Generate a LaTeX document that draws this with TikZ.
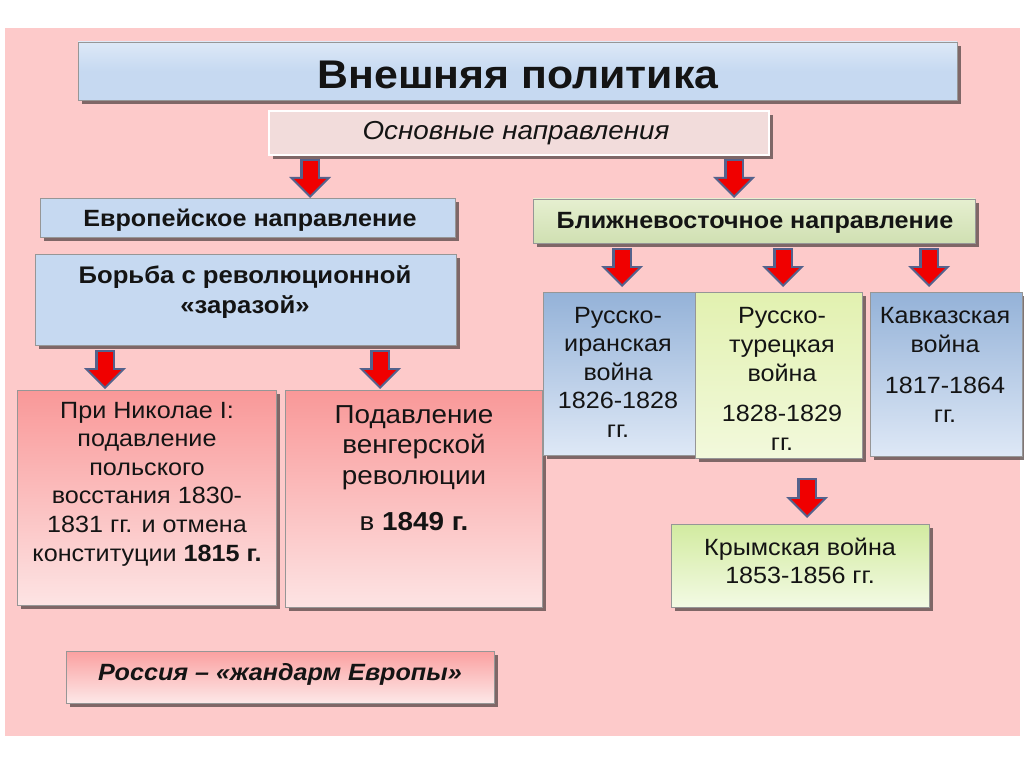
\documentclass[tikz,border=0pt]{standalone}
\usepackage{fontspec}
\setmainfont{Liberation Sans}[FakeStretch=1.07]
\usetikzlibrary{shadows,arrows.meta,calc}

\definecolor{bgpink}{RGB}{253,202,202}
\definecolor{tblue}{RGB}{198,217,241}
\definecolor{subpink}{RGB}{242,220,219}
\definecolor{boxline}{RGB}{150,150,150}
\definecolor{shadowc}{RGB}{85,70,70}
\definecolor{arrblue}{RGB}{84,98,140}
\definecolor{arrred}{RGB}{240,0,0}
\definecolor{txt}{RGB}{20,20,20}

\newcommand\fs[2]{\fontsize{#1}{#2}\selectfont}
\newcommand\barrow[5]{%
  \draw[arrout] ($(#2.south -| #1)+(0,#3)$) -- ($(#4.north -| #1)+(0,-#5)$);
  \draw[arrin] ($(#2.south -| #1)+(0,#3+2)$) -- ($(#4.north -| #1)+(0,-#5-3)$);
}

\begin{document}
\begin{tikzpicture}[x=1pt,y=-1pt,
  box/.style={draw=boxline, line width=0.7pt, inner sep=0pt, outer sep=0pt,
    anchor=north west,
    drop shadow={shadow xshift=4pt, shadow yshift=-4pt, fill=shadowc, opacity=0.75}},
  lbl/.style={text=txt, align=center, inner sep=0pt},
  arrout/.style={draw=arrblue, line width=20pt,
    -{Triangle[length=21pt,width=42pt,line width=0pt]}},
  arrin/.style={draw=arrred, line width=15pt,
    -{Triangle[length=16pt,width=32pt,line width=0pt]}},
]
\useasboundingbox (0,0) rectangle (1024,767);
\fill[white] (0,0) rectangle (1024,767);
\fill[bgpink] (5,28) rectangle (1020,736);

% title
\node[box, fill=tblue, top color=white!40!tblue, bottom color=tblue, middle color=tblue,
  minimum width=879, minimum height=58] (title) at (78,42) {};
\node[lbl, font=\fs{40}{46}\bfseries] (titlet) at (518,75) {Внешняя политика};

% subtitle
\node[box, fill=subpink, draw=white, line width=2pt, minimum width=500, minimum height=44] (sub) at (269,111) {};
\node[lbl, font=\fs{26}{30}\itshape] (subt) at (516,133) {Основные направления};

% European branch
\node[box, fill=tblue, minimum width=415, minimum height=39] (eur) at (40,198) {};
\node[lbl, font=\fs{23.5}{28}\bfseries] (eurt) at (250,220) {Европейское направление};

\node[box, fill=tblue, minimum width=421, minimum height=91] (bor) at (35,254) {};
\node[lbl, font=\fs{24}{30}\bfseries] (bort) at (245,292) {Борьба с революционной\\«заразой»};

\node[box, top color={rgb,255:red,249;green,152;blue,152}, bottom color={rgb,255:red,253;green,228;blue,228},
  minimum width=259, minimum height=215] (nik) at (17,390) {};
\node[lbl, font=\fs{23.5}{28.6}] (nikt) at (147,484) {При Николае I:\\подавление\\польского\\восстания 1830-\\1831 гг. и отмена\\конституции \textbf{1815 г.}};

\node[box, top color={rgb,255:red,249;green,152;blue,152}, bottom color={rgb,255:red,253;green,228;blue,228},
  minimum width=257, minimum height=217] (ven) at (285,390) {};
\node[lbl, font=\fs{26}{30.5}] (vent) at (414,468) {Подавление\\венгерской\\революции\\[16pt]в \textbf{1849 г.}};

\node[box, top color={rgb,255:red,250;green,160;blue,160}, bottom color={rgb,255:red,253;green,232;blue,232},
  minimum width=428, minimum height=52] (rus) at (66,651) {};
\node[lbl, font=\fs{23.5}{28}\bfseries\itshape] (rust) at (280,674) {Россия – «жандарм Европы»};

% Near East branch
\node[box, top color={rgb,255:red,230;green,239;blue,208}, bottom color={rgb,255:red,208;green,224;blue,178},
  minimum width=442, minimum height=44] (ne) at (533,199) {};
\node[lbl, font=\fs{23.5}{28}\bfseries] (net) at (755,223) {Ближневосточное направление};

\node[box, top color={rgb,255:red,148;green,178;blue,216}, bottom color={rgb,255:red,222;green,232;blue,246},
  minimum width=152, minimum height=163] (ri) at (543,292) {};
\node[lbl, font=\fs{23.5}{28.5}] (rit) at (618,372) {Русско-\\иранская\\война\\1826-1828\\гг.};

\node[box, top color={rgb,255:red,226;green,241;blue,176}, bottom color={rgb,255:red,242;green,249;blue,220},
  minimum width=167, minimum height=166] (rt) at (695,292) {};
\node[lbl, font=\fs{23.5}{29}] (rtt) at (782,379) {Русско-\\турецкая\\война\\[11pt]1828-1829\\гг.};

\node[box, top color={rgb,255:red,148;green,178;blue,216}, bottom color={rgb,255:red,222;green,232;blue,246},
  minimum width=152, minimum height=164] (kav) at (870,292) {};
\node[lbl, font=\fs{23.5}{29}] (kavt) at (945,365) {Кавказская\\война\\[12pt]1817-1864\\гг.};

\node[box, top color={rgb,255:red,210;green,235;blue,160}, bottom color={rgb,255:red,243;green,250;blue,228},
  minimum width=258, minimum height=83] (cri) at (671,524) {};
\node[lbl, font=\fs{23.5}{28}] (crit) at (800,561) {Крымская война\\1853-1856 гг.};

% arrow x positions
\coordinate (x1) at (310,0);
\coordinate (x2) at (734,0);
\coordinate (x3) at (105,0);
\coordinate (x4) at (380,0);
\coordinate (x5) at (622,0);
\coordinate (x6) at (783,0);
\coordinate (x7) at (929,0);
\coordinate (x8) at (807,0);

\barrow{x1}{sub}{4}{eur}{0}
\barrow{x2}{sub}{4}{ne}{1}
\barrow{x3}{bor}{5}{nik}{1}
\barrow{x4}{bor}{5}{ven}{1}
\barrow{x5}{ne}{5}{ri}{5}
\barrow{x6}{ne}{5}{rt}{5}
\barrow{x7}{ne}{5}{kav}{5}
\barrow{x8}{rt}{20}{cri}{6}
\end{tikzpicture}
\end{document}
